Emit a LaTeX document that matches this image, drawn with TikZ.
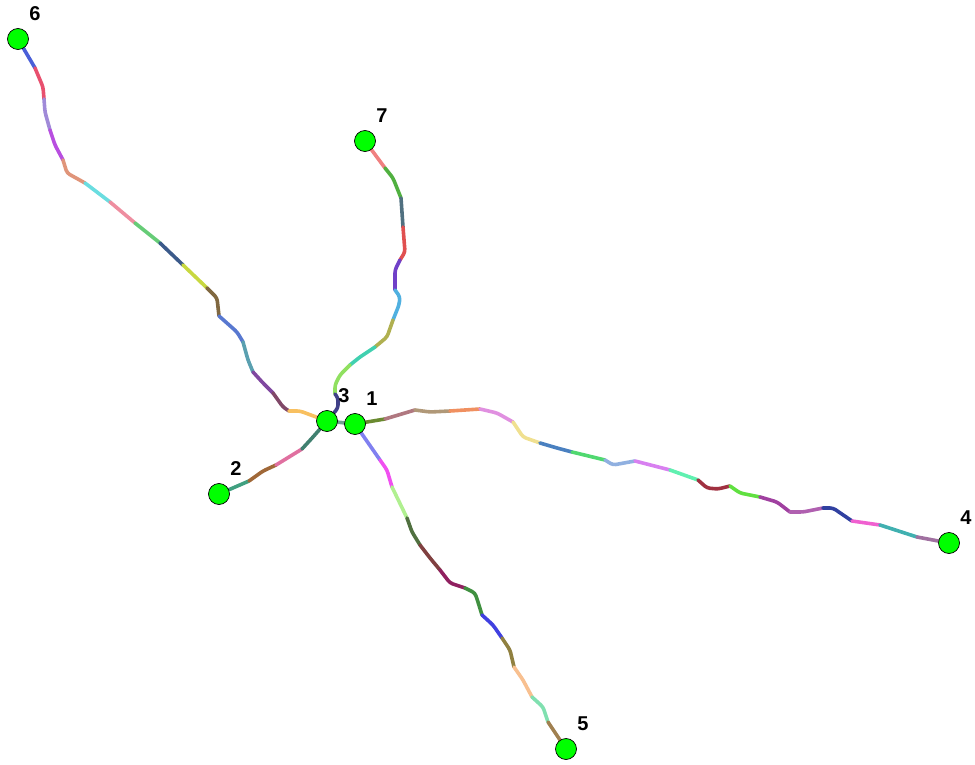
\documentclass[tikz,border=0pt]{standalone}
\usepackage{fontspec}
\setmainfont{Liberation Sans}
\usetikzlibrary{backgrounds}

% one coloured piece of a trail
\newcommand{\trailpart}[2]{\definecolor{partcol}{HTML}{#1}\draw[trail,partcol] #2;}

\begin{document}
\begin{tikzpicture}[x=1pt,y=-1pt,
  hub/.style={circle,draw=black,line width=0.7pt,fill=green,minimum size=21pt,inner sep=0pt},
  num/.style={font=\bfseries\fontsize{20}{20}\selectfont},
  trail/.style={line width=3.6pt,line cap=round,line join=round,rounded corners=3pt}]
\useasboundingbox (0,0) rectangle (975,765);

\foreach \n/\x/\y in {1/355/424,2/219/494,3/327/421,4/949/543,5/566/749,6/18/39,7/365/141}{
  \node[hub] (n\n) at (\x,\y) {};
  \node[num] (t\n) at ([shift={(17,-25)}]n\n) {\n};
}

\begin{scope}[on background layer]
% 6 -- 3
\trailpart{4A5FD8}{(n6) -- (35,68)}
\trailpart{E8506E}{(35,68) -- (43,87) -- (44,99)}
\trailpart{A08AD8}{(44,99) -- (45,112) -- (50,130)}
\trailpart{B84EE0}{(50,130) -- (55,145) -- (63,160)}
\trailpart{E0957A}{(63,160) -- (67,173) -- (85,183)}
\trailpart{6ADDE0}{(85,183) -- (110,202)}
\trailpart{EE8EA0}{(110,202) -- (135,223)}
\trailpart{66CC77}{(135,223) -- (160,243)}
\trailpart{3B5A8A}{(160,243) -- (183,265)}
\trailpart{C8D840}{(183,265) -- (207,288)}
\trailpart{806840}{(207,288) -- (217,298) -- (219,316)}
\trailpart{5878D0}{(219,316) -- (237,332) -- (243,342)}
\trailpart{5AA0B0}{(243,342) -- (248,360) -- (253,372)}
\trailpart{8048A0}{(253,372) -- (263,383) -- (273,393)}
\trailpart{804868}{(273,393) -- (283,407) -- (289,411)}
\trailpart{F8C060}{(289,411) -- (300,411) -- (n3)}
% 7 -- 3
\trailpart{F08080}{(n7) -- (385,168)}
\trailpart{50B040}{(385,168) -- (393,178) -- (401,198)}
\trailpart{507080}{(401,198) -- (403,227)}
\trailpart{E05050}{(403,227) -- (405,252) -- (400,260)}
\trailpart{7040C8}{(400,260) -- (395,270) -- (395,290)}
\trailpart{50B0E0}{(395,290) -- (400,297) -- (399,305) -- (393,320)}
\trailpart{B0B050}{(393,320) -- (387,337) -- (375,347)}
\trailpart{40D0B0}{(375,347) -- (360,357) -- (350,365)}
\trailpart{90E060}{(350,365) -- (340,375) -- (335,385) -- (335,394)}
\trailpart{404088}{(335,394) -- (338,398) -- (338,408) -- (n3)}
% 2 -- 3
\trailpart{40A080}{(n2) -- (249,481)}
\trailpart{A06838}{(249,481) -- (263,471) -- (276,465)}
\trailpart{E070A0}{(276,465) -- (302,449)}
\trailpart{408070}{(302,449) -- (313,437) -- (n3)}
% 3 -- 1
\trailpart{70A090}{(n3) -- (n1)}
% 1 -- 4
\trailpart{6A8A30}{(n1) -- (385,419)}
\trailpart{B07880}{(385,419) -- (415,410)}
\trailpart{B09878}{(415,410) -- (430,412) -- (450,411)}
\trailpart{F09060}{(450,411) -- (480,409)}
\trailpart{E090E0}{(480,409) -- (497,413) -- (513,422)}
\trailpart{F0E090}{(513,422) -- (523,437) -- (540,443)}
\trailpart{4A80C0}{(540,443) -- (557,448) -- (572,452)}
\trailpart{50D870}{(572,452) -- (605,460)}
\trailpart{90B0E0}{(605,460) -- (613,465) -- (635,461)}
\trailpart{D880F0}{(635,461) -- (670,470)}
\trailpart{60F0B0}{(670,470) -- (698,480)}
\trailpart{A03040}{(698,480) -- (707,488) -- (718,489) -- (730,486)}
\trailpart{60E040}{(730,486) -- (740,493) -- (760,497)}
\trailpart{A040A0}{(760,497) -- (777,502) -- (790,512)}
\trailpart{B060B0}{(790,512) -- (803,512) -- (823,508)}
\trailpart{3040A0}{(823,508) -- (833,508) -- (852,521)}
\trailpart{F060D0}{(852,521) -- (880,525)}
\trailpart{40B0B0}{(880,525) -- (917,537)}
\trailpart{A070A0}{(917,537) -- (n4)}
% 1 -- 5
\trailpart{8080F0}{(n1) -- (380,460)}
\trailpart{F050F0}{(380,460) -- (387,470) -- (392,487)}
\trailpart{B0F090}{(392,487) -- (407,518)}
\trailpart{507040}{(407,518) -- (412,532) -- (420,545)}
\trailpart{804040}{(420,545) -- (430,558) -- (440,570)}
\trailpart{902060}{(440,570) -- (450,583) -- (465,588)}
\trailpart{409040}{(465,588) -- (475,593) -- (478,602) -- (482,615)}
\trailpart{4040E0}{(482,615) -- (493,625) -- (502,638)}
\trailpart{908040}{(502,638) -- (510,650) -- (514,667)}
\trailpart{F8C090}{(514,667) -- (523,680) -- (532,697)}
\trailpart{80E0B0}{(532,697) -- (543,707) -- (548,722)}
\trailpart{A08050}{(548,722) -- (n5)}
\end{scope}
\end{tikzpicture}
\end{document}
